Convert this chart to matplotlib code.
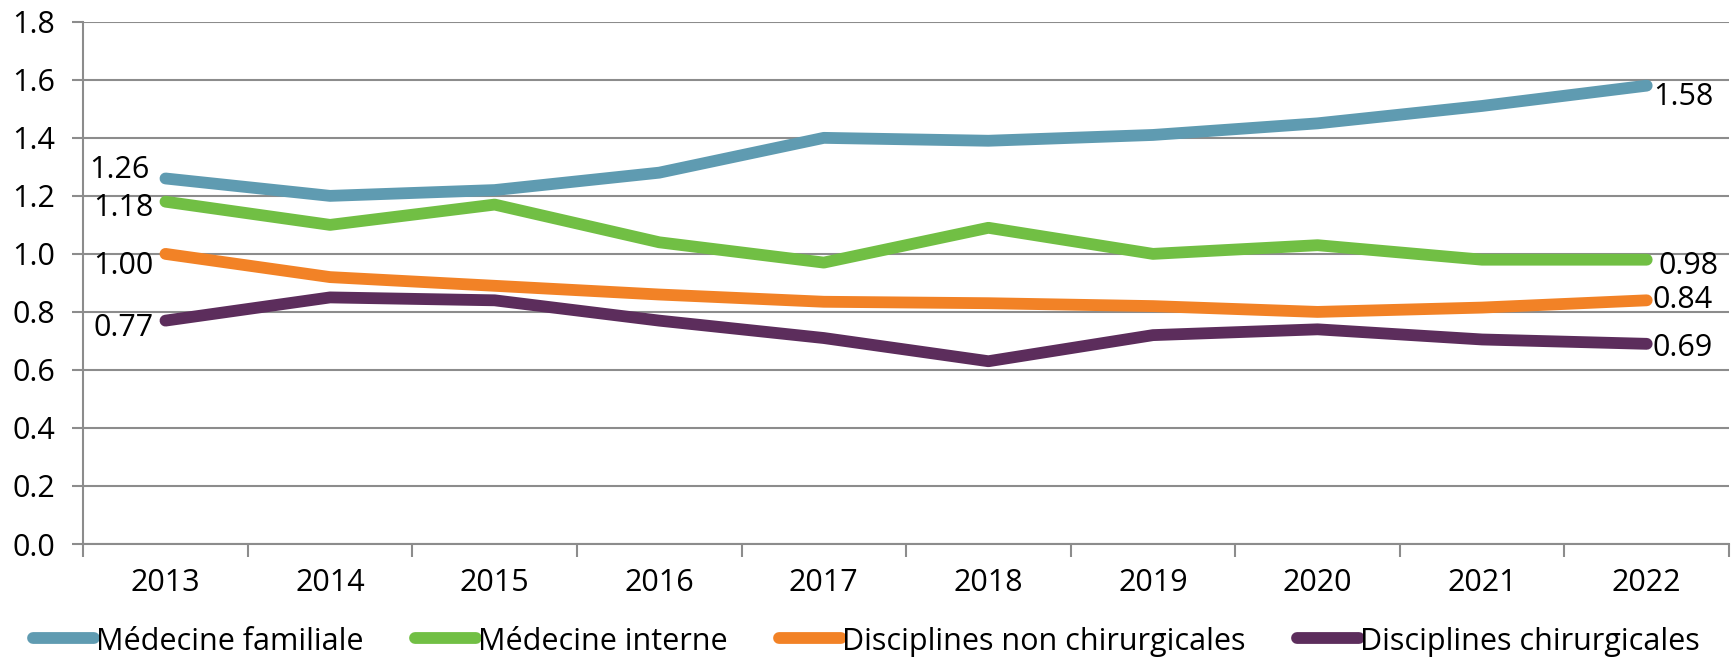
import matplotlib
matplotlib.use("Agg")
import matplotlib.pyplot as plt
import numpy as np

# =========================
# DATA
# =========================
years = ["2013", "2014", "2015", "2016", "2017", "2018", "2019", "2020", "2021", "2022"]
med_familiale = [1.26, 1.20, 1.22, 1.28, 1.40, 1.39, 1.41, 1.45, 1.51, 1.58]
med_interne = [1.18, 1.10, 1.17, 1.04, 0.97, 1.09, 1.00, 1.03, 0.98, 0.98]
non_chir = [1.00, 0.92, 0.89, 0.86, 0.835, 0.83, 0.82, 0.80, 0.815, 0.84]
chir = [0.77, 0.85, 0.84, 0.77, 0.71, 0.63, 0.72, 0.74, 0.705, 0.69]

series_names = ["Médecine familiale", "Médecine interne",
                "Disciplines non chirurgicales", "Disciplines chirurgicales"]
first_labels = ["1.26", "1.18", "1.00", "0.77"]
last_labels = ["1.58", "0.98", "0.84", "0.69"]

colors = ["#5f9bb1", "#71bf44", "#f28226", "#5c2d5c"]
GRID = "#8c8c8c"

plt.rcParams["font.family"] = ["Open Sans", "DejaVu Sans"]
FS = 22

fig = plt.figure(figsize=(17.33, 6.61), dpi=100)
ax = fig.add_axes([0.048, 0.177, 0.9497, 0.79])

x = np.arange(len(years))
all_series = [med_familiale, med_interne, non_chir, chir]
for vals, name, c in zip(all_series, series_names, colors):
    ax.plot(x, vals, color=c, lw=8.5, solid_capstyle="round",
            solid_joinstyle="round", label=name, zorder=3)

# end labels (offsets in pixels)
first_off = [(-16, 8), (-12, -6), (-12, -12), (-12, -7)]
last_off = [(6, -11), (12, -6), (6, 0), (6, -4)]
for vals, lab, off in zip(all_series, first_labels, first_off):
    ax.annotate(lab, (x[0], vals[0]), xytext=off, textcoords="offset pixels",
                ha="right", va="center", fontsize=FS, zorder=4)
for vals, lab, off in zip(all_series, last_labels, last_off):
    ax.annotate(lab, (x[-1], vals[-1]), xytext=off, textcoords="offset pixels",
                ha="left", va="center", fontsize=FS, zorder=4)

# axes styling
ax.set_ylim(0, 1.8)
ax.set_yticks(np.arange(0, 1.81, 0.2))
ax.set_yticklabels([f"{v:.1f}" for v in np.arange(0, 1.81, 0.2)])
ax.set_xlim(-0.5, len(years) - 0.5)
ax.set_xticks(x)
ax.set_xticklabels(years)
ax.set_xticks(np.arange(-0.5, len(years)), minor=True)

ax.yaxis.grid(True, color=GRID, lw=1.5, zorder=0)
ax.set_axisbelow(True)
for s in ["top", "right"]:
    ax.spines[s].set_visible(False)
for s in ["left", "bottom"]:
    ax.spines[s].set_color(GRID)
    ax.spines[s].set_linewidth(1.5)

ax.tick_params(axis="y", length=8, width=1.5, color=GRID, pad=12, labelsize=FS)
ax.tick_params(axis="x", which="major", length=0, pad=17, labelsize=FS)
ax.tick_params(axis="x", which="minor", length=9, width=1.5, color=GRID)

fig.legend(loc="lower center", bbox_to_anchor=(0.5, -0.035), ncol=4, frameon=False,
           fontsize=FS, handlelength=2.0, handleheight=0.8, handletextpad=0.05,
           columnspacing=1.7)

fig.savefig("out.png", dpi=100)
